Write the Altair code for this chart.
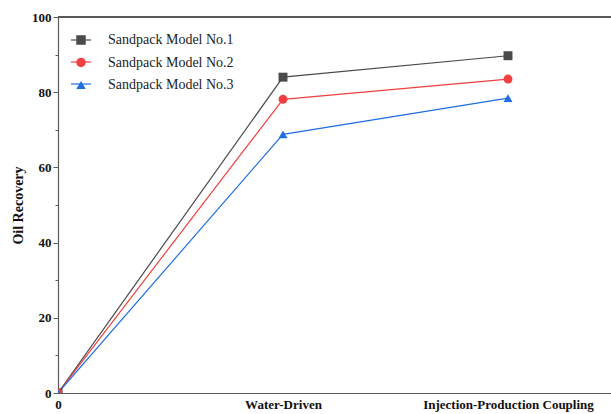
import altair as alt
import pandas as pd

stages = [0, 1, 2]
stage_labels = ["0", "Water-Driven", "Injection-Production Coupling"]
series = ["Sandpack Model No.1", "Sandpack Model No.2", "Sandpack Model No.3"]
model1 = [0, 84.0, 89.7]
model2 = [0, 78.1, 83.5]
model3 = [0, 68.8, 78.4]
colors = ["#4a4a4a", "#f04040", "#1f6fe3"]
shapes = ["square", "circle", "triangle-up"]

rows = []
for name, vals in zip(series, [model1, model2, model3]):
    for s, v in zip(stages, vals):
        rows.append({"stage": s, "value": v, "series": name})
df = pd.DataFrame(rows)

W, H = 553, 376
FONT = "Liberation Serif"

label_expr = ("datum.value == 0 ? '0' : datum.value == 1 ? 'Water-Driven' : "
              "datum.value == 2 ? 'Injection-Production Coupling' : ''")

x = alt.X("stage:Q", scale=alt.Scale(domain=[0, W / 225.0], nice=False, zero=False),
          axis=alt.Axis(values=stages, labelExpr=label_expr, title=None, grid=False,
                        ticks=False, labelFont=FONT, labelFontWeight="bold", labelFontSize=13,
                        labelColor="#111", labelPadding=5, domainColor="#5a5a5a",
                        domainWidth=1.2, labelFlush=False, labelOverlap=False))
y = alt.Y("value:Q", scale=alt.Scale(domain=[0, 100], nice=False),
          axis=alt.Axis(values=list(range(0, 101, 10)),
                        labelExpr="datum.value % 20 === 0 ? datum.label : ''",
                        title="Oil Recovery", titleFont=FONT, titleFontWeight="bold",
                        titleFontSize=14, titleColor="#111", titlePadding=6,
                        grid=False, labelFont=FONT, labelFontWeight="bold", labelFontSize=13,
                        labelColor="#111", labelPadding=2, domainColor="#5a5a5a",
                        domainWidth=1.2, tickColor="#5a5a5a",
                        tickSize={"condition": {"test": "datum.value % 20 === 0", "value": 5}, "value": 3}))

line_legend = alt.Legend(title=None, orient="none", legendX=12, legendY=12,
                         symbolType="stroke", symbolSize=400, symbolStrokeWidth=1.2,
                         rowPadding=4, labelExpr="''", labelFont=FONT, labelFontSize=14)
point_legend = alt.Legend(title=None, orient="none", legendX=16, legendY=16,
                          symbolSize=90, symbolStrokeWidth=0, symbolOpacity=1,
                          rowPadding=8.5, labelFont=FONT, labelFontSize=14, labelColor="#222",
                          labelOffset=20, labelLimit=300)
cscale = alt.Scale(domain=series, range=colors)

lines = alt.Chart(df).mark_line(strokeWidth=1.2, clip=True).encode(
    x=x, y=y, color=alt.Color("series:N", scale=cscale, legend=line_legend),
    detail="series:N", order="stage:Q")
points = alt.Chart(df).mark_point(filled=True, size=80, opacity=1, clip=True).encode(
    x=x, y=y,
    color=alt.Color("series:N", scale=cscale, legend=point_legend),
    shape=alt.Shape("series:N", scale=alt.Scale(domain=series, range=shapes), legend=point_legend))
top = alt.Chart(df).mark_rule(color="#5a5a5a", strokeWidth=1.2).encode(
    y=alt.value(0), x=alt.value(0), x2=alt.value(W))

chart = alt.layer(lines, points, top).resolve_legend(
    color="independent", shape="independent"
).properties(
    width=W, height=H,
    autosize=alt.AutoSizeParams(type="none"),
    padding={"left": 58, "top": 17, "right": 0, "bottom": 21},
).configure_view(stroke=None).configure(background="white")

chart.save("out.html", embed_options={"renderer": "svg", "actions": False})
